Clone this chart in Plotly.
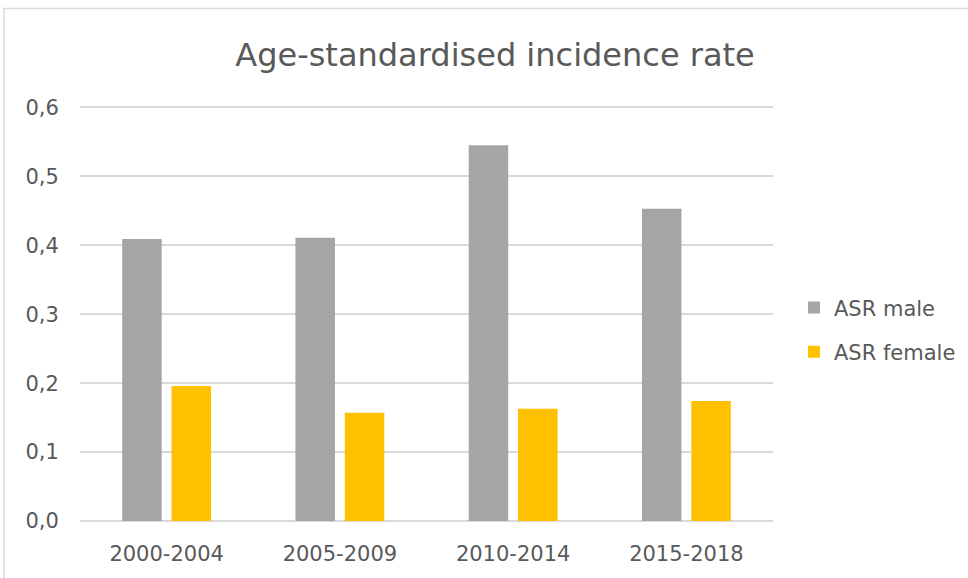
import plotly.graph_objects as go

categories = ["2000-2004", "2005-2009", "2010-2014", "2015-2018"]
asr_male = [0.409, 0.411, 0.545, 0.453]
asr_female = [0.196, 0.157, 0.163, 0.174]
y_ticks = [0.0, 0.1, 0.2, 0.3, 0.4, 0.5, 0.6]
y_tick_labels = ["0,0", "0,1", "0,2", "0,3", "0,4", "0,5", "0,6"]

W, H = 968, 578
y_top = 0.605
L, R, B = 80, 195, 57
T = (H - B) - y_top * (414 / 0.6)
pw, ph = W - L - R, H - T - B

def px_x(p):
    return (p - L) / pw

def px_y(p):
    return (H - B - p) / ph

font = "DejaVu Sans"
txt = "#595959"
fs = 21

fig = go.Figure()
fig.add_trace(go.Bar(x=categories, y=asr_male, name="ASR male", legendgroup="m",
                     marker=dict(color="#A5A5A5", line=dict(width=0))))
fig.add_trace(go.Bar(x=categories, y=asr_female, name="ASR female", legendgroup="f",
                     marker=dict(color="#FFC000", line=dict(width=0))))

fig.update_layout(
    width=W, height=H,
    margin=dict(l=L, r=R, t=T, b=B, pad=0, autoexpand=False),
    paper_bgcolor="white", plot_bgcolor="white",
    barmode="group", bargap=0.43, bargroupgap=0.2,
    font=dict(family=font, color=txt, size=fs),
    title=dict(text="Age-standardised incidence rate", x=495 / W, xanchor="center",
               y=1 - 55 / H, yanchor="middle",
               font=dict(family=font, size=32, color=txt)),
    legend=dict(x=px_x(794), y=px_y(287), xanchor="left", yanchor="top",
                font=dict(family=font, size=fs, color=txt),
                tracegroupgap=14, itemwidth=30, bgcolor="rgba(0,0,0,0)"),
    xaxis=dict(showgrid=False, showline=False, ticks="outside", ticklen=14,
               tickcolor="rgba(0,0,0,0)", tickfont=dict(size=fs, color=txt)),
    yaxis=dict(range=[0, y_top], tickvals=y_ticks, ticktext=y_tick_labels,
               showgrid=True, gridcolor="#D9D9D9", gridwidth=2, zeroline=True,
               zerolinecolor="#D9D9D9", zerolinewidth=2, showline=False,
               ticks="outside", ticklen=16, tickcolor="rgba(0,0,0,0)",
               tickfont=dict(size=fs, color=txt)),
    shapes=[dict(type="rect", xref="paper", yref="paper",
                 x0=px_x(4), x1=px_x(990), y0=px_y(600), y1=px_y(8),
                 line=dict(color="#D9D9D9", width=1.5), fillcolor="rgba(0,0,0,0)", layer="below")],
)
fig.write_html("out.html", config={"displayModeBar": False},
               post_script="document.body.style.margin='0';")
